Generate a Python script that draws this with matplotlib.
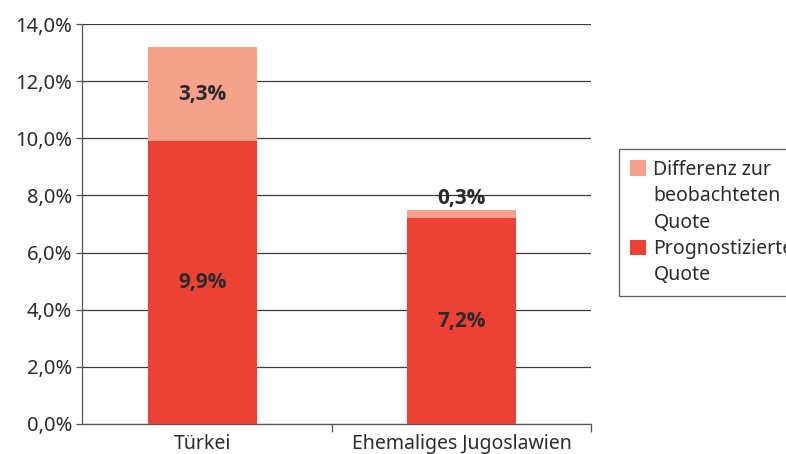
import matplotlib
matplotlib.use("Agg")
import matplotlib.pyplot as plt
from matplotlib.ticker import FixedLocator
from matplotlib.patches import Patch

categories = ["Türkei", "Ehemaliges Jugoslawien"]
prognose = [9.9, 7.2]
differenz = [3.3, 0.3]
yticks = [0, 2, 4, 6, 8, 10, 12, 14]
ytick_labels = ["0,0%", "2,0%", "4,0%", "6,0%", "8,0%", "10,0%", "12,0%", "14,0%"]
series_names = ["Differenz zur\nbeobachteten\nQuote", "Prognostizierte\nQuote"]

c_light = "#F6A189"
c_red = "#EE4136"
txt = "#2b2b2b"

plt.rcParams['font.family'] = ['Noto Sans', 'DejaVu Sans']
FS = 14
BOLD = dict(family=['Open Sans', 'DejaVu Sans'], fontweight="bold", fontsize=15, color=txt, zorder=4)

fig = plt.figure(figsize=(7.86, 4.54), dpi=100)
ax = fig.add_axes([82/786, 30/454, (591-82)/786, 400/454])

x = list(range(len(categories)))
b1 = ax.bar(x, prognose, width=0.42, color=c_red, zorder=3)
b2 = ax.bar(x, differenz, bottom=prognose, width=0.42, color=c_light, zorder=3)

for i in x:
    ax.text(i, prognose[i] / 2, f"{prognose[i]:.1f}%".replace(".", ","), ha="center", va="center", **BOLD)
    if differenz[i] >= 1:
        ax.text(i, prognose[i] + differenz[i] / 2, f"{differenz[i]:.1f}%".replace(".", ","),
                ha="center", va="center", **BOLD)
    else:
        ax.text(i, prognose[i] + differenz[i] + 0.02, f"{differenz[i]:.1f}%".replace(".", ","),
                ha="center", va="bottom", **BOLD)

ax.set_xlim(-0.465, len(categories) - 0.5)
ax.set_ylim(0, 14)
ax.set_yticks(yticks)
ax.set_yticklabels(ytick_labels)
ax.yaxis.grid(True, color="#3a3a3a", linewidth=0.9, zorder=0)
ax.set_xticks(x)
ax.set_xticklabels(categories)
ax.xaxis.set_minor_locator(FixedLocator([0.5 + k for k in range(len(categories))]))
ax.tick_params(axis="x", which="major", length=0, pad=7, labelsize=FS, labelcolor=txt)
ax.tick_params(axis="x", which="minor", length=6, color="#555555", width=0.9)
ax.tick_params(axis="y", length=4, color="#555555", width=0.9, labelsize=14.5, labelcolor=txt, pad=3)

for s in ["top", "right"]:
    ax.spines[s].set_visible(False)
for s in ["left", "bottom"]:
    ax.spines[s].set_color("#555555")
    ax.spines[s].set_linewidth(0.9)

# legend: one entry per text line, handle on the first line of each series
handles, labels = [], []
for name, color in [(series_names[0], c_light), (series_names[1], c_red)]:
    for j, line in enumerate(name.split("\n")):
        if j == 0:
            handles.append(Patch(facecolor=color, edgecolor="none"))
        else:
            handles.append(Patch(facecolor="none", edgecolor="none"))
        labels.append(line)

leg = fig.legend(handles, labels, loc="upper left",
                 bbox_to_anchor=(619/786, 305/454), frameon=True, fancybox=False,
                 edgecolor="#333333", fontsize=FS, handlelength=0.82, handleheight=0.82,
                 handletextpad=0.4, borderpad=0.55, labelspacing=0.33, borderaxespad=0)
leg.get_frame().set_linewidth(0.9)
for t in leg.get_texts():
    t.set_color(txt)

fig.savefig("out.png", dpi=100)
